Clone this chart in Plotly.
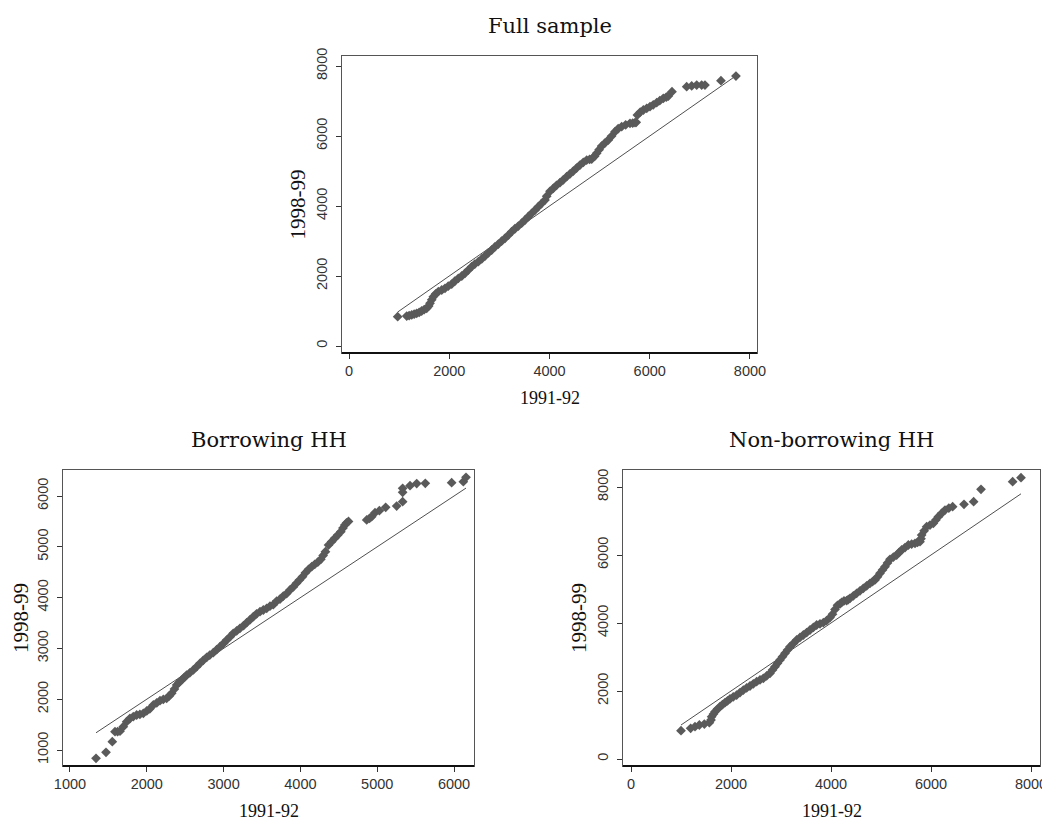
import plotly.graph_objects as go

# ---------------- data (quantiles) ----------------
titles = ["Full sample", "Borrowing HH", "Non-borrowing HH"]
x_title = "1991-92"
y_title = "1998-99"

full_x = [971, 1151, 1200, 1251, 1300, 1350, 1400, 1450, 1500, 1550, 1590, 1616, 1650, 1682,
          1730, 1782, 1850, 1915, 1980, 2049, 2110, 2181, 2250, 2314, 2380, 2448, 2510, 2580,
          2650, 2713, 2780, 2847, 2910, 2979, 3045, 3112, 3180, 3246, 3310, 3378, 3445, 3511,
          3580, 3645, 3710, 3777, 3840, 3910, 3944, 4010, 4076, 4140, 4209, 4275, 4343, 4410,
          4475, 4540, 4608, 4675, 4742, 4800, 4842, 4900, 4941, 4990, 5041, 5105, 5173, 5240,
          5307, 5370, 5440, 5520, 5606, 5660, 5706, 5730, 5753, 5810, 5873, 5940, 6005, 6070,
          6139, 6200, 6271, 6330, 6371, 6444, 6737, 6837, 6937, 7036, 7102, 7421, 7720]
full_y = [838, 857, 870, 886, 910, 933, 960, 1000, 1040, 1076, 1140, 1219, 1320, 1410,
          1490, 1552, 1600, 1648, 1710, 1771, 1850, 1933, 2000, 2076, 2170, 2267, 2340, 2410,
          2490, 2571, 2660, 2743, 2830, 2914, 2995, 3076, 3170, 3267, 3350, 3428, 3510, 3600,
          3700, 3791, 3880, 3981, 4070, 4171, 4280, 4420, 4505, 4590, 4667, 4750, 4838, 4920,
          5000, 5085, 5171, 5250, 5314, 5330, 5343, 5420, 5505, 5610, 5714, 5800, 5886, 6000,
          6124, 6210, 6267, 6320, 6362, 6370, 6380, 6390, 6600, 6680, 6743, 6790, 6838, 6890,
          6952, 7010, 7076, 7110, 7143, 7267, 7410, 7429, 7457, 7457, 7457, 7581, 7714]

borr_x = [1339, 1469, 1551, 1586, 1620, 1651, 1694, 1738, 1780, 1824, 1868, 1910, 1955, 2000,
          2040, 2085, 2130, 2172, 2215, 2259, 2290, 2324, 2360, 2389, 2420, 2454, 2490, 2519,
          2560, 2606, 2650, 2693, 2735, 2780, 2820, 2866, 2910, 2953, 3000, 3040, 3085, 3126,
          3170, 3213, 3260, 3301, 3345, 3387, 3430, 3474, 3517, 3561, 3604, 3647, 3691, 3734,
          3777, 3821, 3864, 3907, 3948, 3987, 4027, 4066, 4107, 4148, 4187, 4227, 4266, 4296,
          4326, 4366, 4406, 4446, 4486, 4526, 4554, 4578, 4600, 4626,
          4863, 4900, 4928, 4971, 5028, 5110, 5253, 5331, 5331, 5331, 5427, 5514, 5626, 5969,
          6121, 6156]
borr_y = [836, 954, 1164, 1361, 1361, 1370, 1459, 1558, 1620, 1656, 1689, 1700, 1722, 1770,
          1810, 1886, 1930, 1971, 1995, 2018, 2060, 2116, 2200, 2280, 2330, 2378, 2430, 2476,
          2520, 2575, 2640, 2706, 2765, 2824, 2870, 2915, 2975, 3033, 3100, 3165, 3230, 3296,
          3345, 3395, 3450, 3506, 3565, 3624, 3680, 3723, 3756, 3788, 3830, 3860, 3933, 3970,
          4031, 4080, 4150, 4210, 4281, 4345, 4412, 4490, 4557, 4610, 4655, 4700, 4753, 4830,
          4904, 5035, 5100, 5167, 5230, 5298, 5370, 5429, 5470, 5500,
          5528, 5560, 5593, 5672, 5711, 5777, 5803, 5889, 6072, 6151, 6204, 6245, 6250, 6263,
          6282, 6368]

nonb_x = [1000, 1193, 1280, 1367, 1467, 1567, 1600, 1613, 1650, 1680, 1730, 1780, 1830, 1880,
          1930, 1980, 2045, 2113, 2180, 2247, 2313, 2380, 2447, 2513, 2580, 2647, 2713, 2780,
          2830, 2880, 2930, 2980, 3030, 3080, 3130, 3180, 3247, 3313, 3380, 3447, 3513, 3580,
          3647, 3713, 3780, 3847, 3913, 3980, 4030, 4080, 4130, 4180, 4213, 4260, 4313, 4345,
          4380, 4447, 4513, 4580, 4647, 4713, 4780, 4830, 4880, 4930, 4980, 5030, 5080, 5130,
          5180, 5247, 5313, 5363, 5413, 5480, 5547, 5613, 5680, 5730, 5780, 5800, 5813, 5863,
          5913, 5980, 6047, 6097, 6147, 6213, 6280, 6357, 6433, 6660, 6853, 7000, 7633, 7800]
nonb_y = [833, 902, 951, 1000, 1029, 1069, 1150, 1245, 1320, 1392, 1470, 1539, 1600, 1657,
          1710, 1765, 1825, 1882, 1955, 2029, 2090, 2147, 2210, 2275, 2325, 2373, 2445, 2520,
          2620, 2716, 2815, 2912, 3010, 3108, 3205, 3304, 3400, 3500, 3575, 3647, 3720, 3794,
          3870, 3941, 3975, 4009, 4070, 4160, 4260, 4400, 4520, 4560, 4610, 4650, 4660, 4690,
          4725, 4800, 4873, 4945, 5020, 5095, 5167, 5215, 5265, 5360, 5461, 5560, 5657, 5765,
          5873, 5935, 6000, 6075, 6147, 6220, 6294, 6320, 6343, 6368, 6392, 6480, 6588, 6710,
          6833, 6880, 6931, 7030, 7127, 7225, 7323, 7380, 7421, 7490, 7568, 7932, 8156, 8274]

full_ticks = [0, 2000, 4000, 6000, 8000]
borr_ticks = [1000, 2000, 3000, 4000, 5000, 6000]

# ---------------- layout helpers ----------------
# The page body adds an 8px margin at top-left; the figure fills the rest of the window
OFF = 8
W, H = 1050 - OFF, 822 - OFF
MARKER = "#5a5a5a"
AXC = "#333333"


def fx(px):
    return (px - OFF) / W


def fy(py):
    return 1 - (py - OFF) / H


panels = [
    dict(x=full_x, y=full_y, xr=[-140, 8140], yr=[-200, 8286], xt=full_ticks, yt=full_ticks,
         px=(342, 757), py=(56, 353), ytx=297),
    dict(x=borr_x, y=borr_y, xr=[909, 6260], yr=[685, 6512], xt=borr_ticks, yt=borr_ticks,
         px=(63, 474), py=(470, 766), ytx=21),
    dict(x=nonb_x, y=nonb_y, xr=[-160, 8180], yr=[-206, 8500], xt=full_ticks, yt=full_ticks,
         px=(623, 1040), py=(470, 766), ytx=579),
]

fig = go.Figure()
layout = dict(
    template="none",
    width=W, height=H, margin=dict(l=0, r=0, t=0, b=0, pad=0, autoexpand=False),
    paper_bgcolor="white", plot_bgcolor="white", showlegend=False,
    annotations=[], shapes=[],
)

for i, p in enumerate(panels):
    n = "" if i == 0 else str(i + 1)
    xa, ya = "x" + n, "y" + n
    lo, hi = min(p["x"]), max(p["x"])
    fig.add_trace(go.Scatter(x=[lo, hi], y=[lo, hi], mode="lines", xaxis=xa, yaxis=ya,
                             line=dict(color="#222222", width=0.8), hoverinfo="skip"))
    fig.add_trace(go.Scatter(x=p["x"], y=p["y"], mode="markers", xaxis=xa, yaxis=ya,
                             marker=dict(symbol="diamond", size=7.5, color=MARKER,
                                         line=dict(width=0))))
    xd = [fx(p["px"][0]), fx(p["px"][1])]
    yd = [fy(p["py"][1]), fy(p["py"][0])]
    common = dict(showgrid=False, zeroline=False, showline=True, linecolor="#555555",
                  linewidth=1, mirror=True, ticks="outside", ticklen=5, tickcolor=AXC,
                  tickwidth=1, automargin=False,
                  tickfont=dict(family="Liberation Sans, Arial", size=14.5, color=AXC))
    layout["xaxis" + n] = dict(domain=xd, range=p["xr"], tickvals=p["xt"], anchor=ya,
                               **common)
    layout["yaxis" + n] = dict(domain=yd, range=p["yr"], tickvals=p["yt"], anchor=xa,
                               tickangle=-90, ticklabelstandoff=3, **common)
    # heavier bottom axis line
    layout["shapes"].append(dict(type="line", xref="paper", yref="paper",
                                 x0=xd[0], x1=xd[1], y0=yd[0], y1=yd[0],
                                 line=dict(color="#111111", width=2)))
    # titles
    cx = (p["px"][0] + p["px"][1]) / 2
    layout["annotations"].append(dict(text=titles[i], xref="paper", yref="paper",
                                      x=fx(cx), y=fy(p["py"][0] - 30),
                                      xanchor="center", yanchor="middle", showarrow=False,
                                      font=dict(family="DejaVu Serif", size=21, color="#111")))
    layout["annotations"].append(dict(text=x_title, xref="paper", yref="paper",
                                      x=fx(cx), y=fy(p["py"][1] + 45),
                                      xanchor="center", yanchor="middle", showarrow=False,
                                      font=dict(family="Liberation Serif", size=18, color="#111")))
    cy = (p["py"][0] + p["py"][1]) / 2
    layout["annotations"].append(dict(text=y_title, xref="paper", yref="paper",
                                      x=fx(p["ytx"]), y=fy(cy), textangle=-90,
                                      xanchor="center", yanchor="middle", showarrow=False,
                                      font=dict(family="Liberation Serif", size=21, color="#111")))

fig.update_layout(**layout)
fig.write_html("out.html")
